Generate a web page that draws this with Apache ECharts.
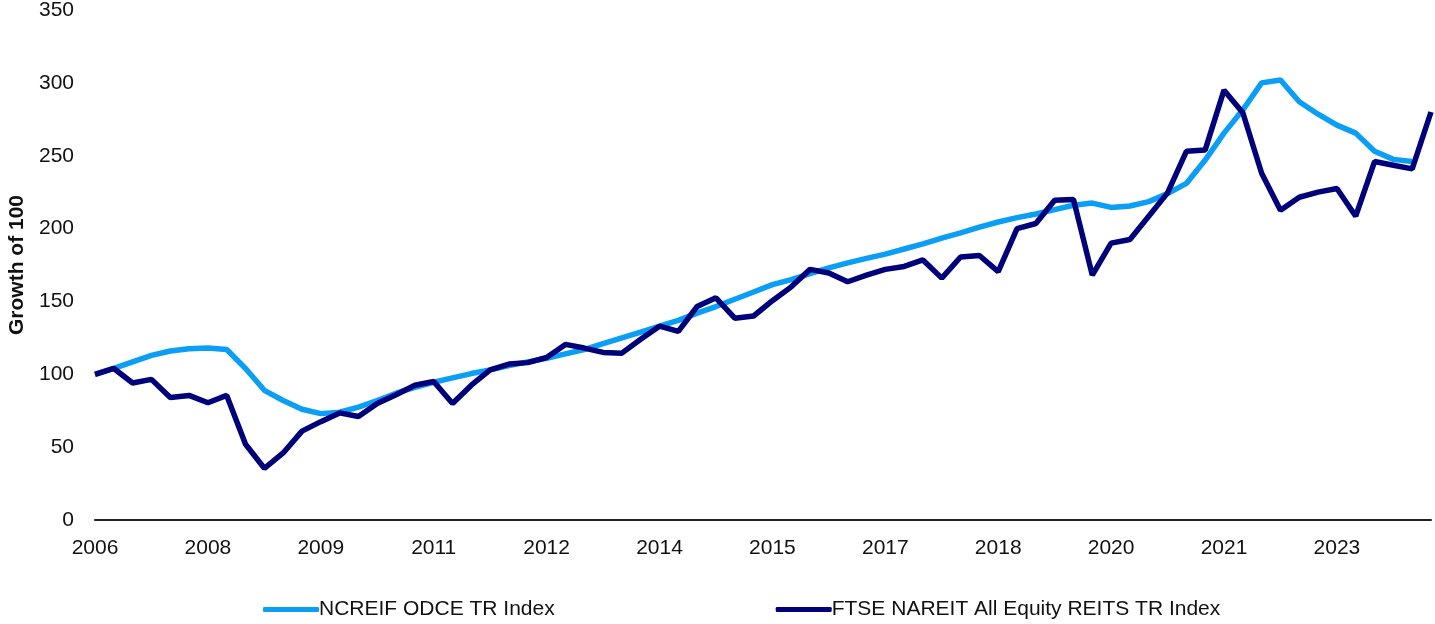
<!DOCTYPE html>
<html lang="en">
<head>
    <meta charset="UTF-8">
    <title>Growth of 100</title>
    <script src="https://cdn.jsdelivr.net/npm/echarts@6/dist/echarts.min.js"></script>
    <style>
        html, body { margin: 0; padding: 0; background: #fff; }
    </style>
</head>
<body>
<div id="main" style="width: 1435px;height:624px;"></div>
<script>
    // quarter ends, Dec 2006 .. Sep 2024
    var quarters = [
        '2006-12', '2007-03', '2007-06', '2007-09', '2007-12', '2008-03', '2008-06', '2008-09',
        '2008-12', '2009-03', '2009-06', '2009-09', '2009-12', '2010-03', '2010-06', '2010-09',
        '2010-12', '2011-03', '2011-06', '2011-09', '2011-12', '2012-03', '2012-06', '2012-09',
        '2012-12', '2013-03', '2013-06', '2013-09', '2013-12', '2014-03', '2014-06', '2014-09',
        '2014-12', '2015-03', '2015-06', '2015-09', '2015-12', '2016-03', '2016-06', '2016-09',
        '2016-12', '2017-03', '2017-06', '2017-09', '2017-12', '2018-03', '2018-06', '2018-09',
        '2018-12', '2019-03', '2019-06', '2019-09', '2019-12', '2020-03', '2020-06', '2020-09',
        '2020-12', '2021-03', '2021-06', '2021-09', '2021-12', '2022-03', '2022-06', '2022-09',
        '2022-12', '2023-03', '2023-06', '2023-09', '2023-12', '2024-03', '2024-06', '2024-09'
    ];

    var odce = [
        100, 104, 108.5, 113, 116, 117.5, 118, 117, 104, 89, 82, 76,
        73, 74, 77.5, 82, 87, 91, 94.5, 97.5, 100.5, 103, 106, 108.5,
        111, 114, 117, 121, 125, 129, 133, 137, 142, 146.5, 151.5, 156.5,
        161.5, 165, 169, 173, 176.5, 179.5, 182.5, 186, 189.5, 193.5, 197, 201,
        204.5, 207.5, 210, 213, 216, 217.5, 214.5, 215.5, 218.5, 224, 231, 247,
        265.5, 281.5, 300, 302, 287, 278.5, 271, 265.5, 253, 247.5, 246, null
    ];

    var nareit = [
        100, 104, 94, 96.5, 84, 85.5, 80.5, 85.5, 52, 35.5, 46, 61,
        67.5, 73.5, 71, 80, 86, 92.5, 95, 80, 92.5, 103, 107, 108,
        111.5, 120.5, 118, 115, 114.5, 124, 133, 129.5, 146.5, 152.5, 138.5, 140,
        150.5, 160, 172, 169.5, 163.5, 168, 172, 174, 178.5, 166, 180.5, 181.5,
        170.5, 200, 203.5, 219.5, 220, 168, 190, 192.5, 208.5, 224.5, 253, 254,
        295, 279.5, 238, 212.5, 221.5, 225, 227.5, 208.5, 246, 243.5, 241, 280
    ];

    var seriesNames = ['NCREIF ODCE TR Index', 'FTSE NAREIT All Equity REITS TR Index'];
    var colors = ['#0a9ef5', '#00007a'];

    var font = 'Liberation Sans, Arial, sans-serif';
    var txt = '#111';
    var myChart = echarts.init(document.getElementById('main'));
    var option = {
        animation: false,
        color: colors,
        grid: {
            left: 95,
            right: 4,
            top: 10,
            bottom: 104,
            outerBoundsMode: 'none',
            containLabel: false
        },
        legend: {
            data: seriesNames,
            top: 594,
            left: 258,
            icon: 'roundRect',
            itemWidth: 56,
            itemHeight: 5,
            itemGap: 221,
            textStyle: {
                fontFamily: font,
                fontSize: 21,
                color: txt,
                padding: [0, 0, 0, -5]
            }
        },
        xAxis: {
            type: 'category',
            boundaryGap: false,
            data: quarters,
            axisLine: { lineStyle: { color: '#222', width: 2 } },
            axisTick: { show: false },
            axisLabel: {
                interval: 5,
                margin: 18,
                fontFamily: font,
                fontSize: 21,
                color: txt,
                formatter: function (v) { return v.slice(0, 4); }
            },
            splitLine: { show: false }
        },
        yAxis: {
            type: 'value',
            min: 0,
            max: 350,
            interval: 50,
            name: 'Growth of 100',
            nameLocation: 'middle',
            nameGap: 62,
            nameTextStyle: {
                fontFamily: font,
                fontSize: 21,
                fontWeight: 'bold',
                color: txt
            },
            axisLine: { show: false },
            axisTick: { show: false },
            axisLabel: {
                margin: 21,
                fontFamily: font,
                fontSize: 21,
                color: txt
            },
            splitLine: { show: false }
        },
        series: [
            {
                name: seriesNames[0],
                type: 'line',
                data: odce,
                symbol: 'none',
                lineStyle: { width: 5.5, color: colors[0] },
                z: 2
            },
            {
                name: seriesNames[1],
                type: 'line',
                data: nareit,
                symbol: 'none',
                lineStyle: { width: 5.5, color: colors[1] },
                z: 3
            }
        ]
    };
    myChart.setOption(option);
</script>
</body>
</html>
